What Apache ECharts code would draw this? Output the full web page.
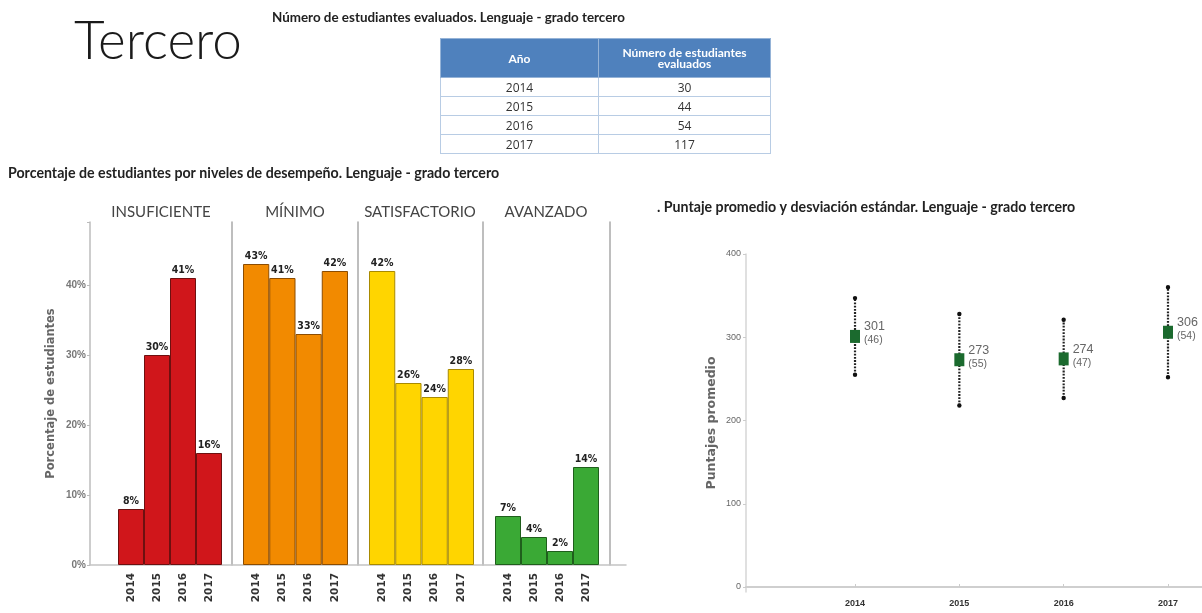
<!DOCTYPE html>
<html><head><meta charset="utf-8">
<script src="https://cdn.jsdelivr.net/npm/echarts@6/dist/echarts.min.js"></script>
<style>
html,body{margin:0;padding:0;background:#fff;}
#chart{position:absolute;left:0;top:0;width:1202px;height:613px;}
#tbl{position:absolute;left:440px;top:38px;border-collapse:collapse;font-family:'Open Sans',sans-serif;font-size:12px;color:#333;}
#tbl th{background:#4f81bd;color:#fff;font-family:Lato,sans-serif;font-weight:bold;font-size:12px;line-height:11px;height:38px;padding:0;border:1px solid #95b3d7;}
#tbl td{height:18px;padding:0;text-align:center;border:1px solid #b8cce4;line-height:17px;}
</style></head><body>
<div id="chart"></div>
<table id="tbl"></table>
<script>
// ---- data ----
const years = ['2014', '2015', '2016', '2017'];
const evaluated = [30, 44, 54, 117];
const levels = ['INSUFICIENTE', 'MÍNIMO', 'SATISFACTORIO', 'AVANZADO'];
const insuficiente = [8, 30, 41, 16];
const minimo = [43, 41, 33, 42];
const satisfactorio = [42, 26, 24, 28];
const avanzado = [7, 4, 2, 14];
const pctTicks = [0, 10, 20, 30, 40];
const scoreYears = [2014, 2015, 2016, 2017];
const scoreMean = [301, 273, 274, 306];
const scoreSD = [46, 55, 47, 54];
const scoreTicks = [0, 100, 200, 300, 400];

// ---- table ----
const tbl = document.getElementById('tbl');
let html = '<tr><th style="width:157px">Año</th><th style="width:171px">Número de estudiantes<br>evaluados</th></tr>';
years.forEach((y, i) => { html += '<tr><td>' + y + '</td><td>' + evaluated[i] + '</td></tr>'; });
tbl.innerHTML = html;

// ---- chart ----
const chart = echarts.init(document.getElementById('chart'));
const levelData = [insuficiente, minimo, satisfactorio, avanzado];
const fills = ['#d0161b', '#f28a00', '#ffd500', '#3aa935'];
const borders = ['#6e1010', '#8c4c00', '#a88a00', '#1f5e1c'];
const barLeft = [118, 243, 369, 495];
const barWidth = [104, 105, 105, 104];
const sepOffset = [0, 11, 11, 12];
const panelCenter = [161, 295, 420, 546];
const TOP = 222, H = 343;

const grids = [{left: 90, top: TOP, width: 536, height: H}];
const xAxes = [{type: 'value', gridIndex: 0, min: 0, max: 1, axisLine: {show: true, lineStyle: {color: '#c4c4c4', width: 1.5}}, axisTick: {show: false}, axisLabel: {show: false}, splitLine: {show: false}}];
const yAxes = [{type: 'value', gridIndex: 0, min: 0, max: 49, interval: 10,
  axisLine: {show: true, lineStyle: {color: '#bdbdbd', width: 1.5}},
  axisTick: {show: true, length: 3, lineStyle: {color: '#bbb'}},
  axisLabel: {fontFamily: 'Liberation Sans Narrow, Liberation Sans', fontWeight: 'bold', fontSize: 10, color: '#777', margin: 4,
    formatter: v => pctTicks.indexOf(v) >= 0 ? v + '%' : ''},
  splitLine: {show: false},
  name: 'Porcentaje de estudiantes', nameLocation: 'middle', nameGap: 33,
  nameTextStyle: {fontFamily: 'DejaVu Sans', fontSize: 11.5, color: '#666', fontWeight: 'bold'}}];
const series = [{type: 'scatter', xAxisIndex: 0, yAxisIndex: 0, data: [], silent: true}];

levels.forEach((lv, i) => {
  grids.push({left: barLeft[i], top: TOP, width: barWidth[i], height: H});
  xAxes.push({type: 'category', gridIndex: i + 1, data: years,
    axisLine: {show: false}, axisTick: {show: false},
    axisLabel: {rotate: 90, fontFamily: 'DejaVu Sans', fontWeight: 'bold', fontSize: 10.5, color: '#333', margin: 8}});
  yAxes.push({type: 'value', gridIndex: i + 1, min: 0, max: 49, offset: sepOffset[i],
    axisLine: {show: i > 0, lineStyle: {color: '#a8a8a8', width: 1.5}},
    axisTick: {show: false}, axisLabel: {show: false}, splitLine: {show: false}});
  series.push({type: 'bar', xAxisIndex: i + 1, yAxisIndex: i + 1, data: levelData[i],
    barCategoryGap: '0%', barWidth: '100%',
    itemStyle: {color: fills[i], borderColor: borders[i], borderWidth: 1},
    label: {show: true, position: 'top', distance: 2, formatter: '{c}%',
      fontFamily: 'Liberation Sans Narrow, DejaVu Sans Condensed', fontWeight: 'bold', fontSize: 10.5, color: '#222'}});
});
// right border of last panel
yAxes.push({type: 'value', gridIndex: 4, min: 0, max: 49, position: 'right', offset: 11,
  axisLine: {show: true, lineStyle: {color: '#a8a8a8', width: 1.5}},
  axisTick: {show: false}, axisLabel: {show: false}, splitLine: {show: false}});

// score chart
const SG = grids.length;
grids.push({left: 746, top: 254, width: 456, height: 338});
const SX = xAxes.length;
xAxes.push({type: 'value', gridIndex: SG, min: 2012.955, max: 2017.326,
  axisLine: {show: true, lineStyle: {color: '#cfcfcf', width: 2}},
  axisTick: {show: true, customValues: scoreYears, length: 3, inside: true, lineStyle: {color: '#ccc'}},
  axisLabel: {customValues: scoreYears, formatter: v => String(v), fontFamily: 'Liberation Sans Narrow, Liberation Sans', fontWeight: 'bold', fontSize: 9, color: '#333', margin: 7},
  splitLine: {show: false}});
const SY = yAxes.length;
yAxes.push({type: 'value', gridIndex: SG, min: -6, max: 400,
  axisLine: {show: true, lineStyle: {color: '#d6d6d6', width: 1.5}},
  axisTick: {show: true, customValues: scoreTicks, length: 3, lineStyle: {color: '#ccc'}},
  axisLabel: {customValues: scoreTicks, fontFamily: 'Liberation Sans Narrow, Liberation Sans', fontSize: 9, color: '#666', margin: 5},
  splitLine: {show: false},
  name: 'Puntajes promedio', nameLocation: 'middle', nameGap: 28,
  nameTextStyle: {fontFamily: 'DejaVu Sans', fontSize: 12.5, color: '#666', fontWeight: 'bold'}});

series.push({type: 'custom', xAxisIndex: SX, yAxisIndex: SY,
  data: scoreYears.map((y, i) => [y, scoreMean[i] - scoreSD[i], scoreMean[i] + scoreSD[i]]),
  renderItem: function (params, api) {
    const lo = api.coord([api.value(0), api.value(1)]);
    const hi = api.coord([api.value(0), api.value(2)]);
    return {type: 'group', children: [
      {type: 'line', shape: {x1: lo[0], y1: lo[1], x2: hi[0], y2: hi[1]}, style: {stroke: '#222', lineWidth: 2.2, lineDash: [1.8, 1.4]}},
      {type: 'circle', shape: {cx: lo[0], cy: lo[1], r: 2.2}, style: {fill: '#111'}},
      {type: 'circle', shape: {cx: hi[0], cy: hi[1], r: 2.2}, style: {fill: '#111'}}
    ]};
  }, z: 2});
series.push({type: 'scatter', xAxisIndex: SX, yAxisIndex: SY, symbol: 'rect', symbolSize: [10, 13],
  data: scoreYears.map((y, i) => [y, scoreMean[i], scoreSD[i]]),
  itemStyle: {color: '#1b6a2e', opacity: 1}, z: 3,
  label: {show: true, position: 'right', distance: 4, offset: [0, -3],
    formatter: p => '{a|' + p.value[1] + '}\n{b|(' + p.value[2] + ')}',
    rich: {a: {fontFamily: 'Liberation Sans Narrow, Liberation Sans', fontSize: 12.5, color: '#666', lineHeight: 14},
           b: {fontFamily: 'Liberation Sans Narrow, Liberation Sans', fontSize: 10.5, color: '#666', lineHeight: 13}}}});

const texts = [
  {x: 74, y: 42, text: 'Tercero', font: '300 53px Lato', fill: '#1a1a1a', align: 'left'},
  {x: 272, y: 18, text: 'Número de estudiantes evaluados. Lenguaje - grado tercero', font: 'bold 13.4px Lato', fill: '#222', align: 'left'},
  {x: 8, y: 173, text: 'Porcentaje de estudiantes por niveles de desempeño. Lenguaje - grado tercero', font: 'bold 14.2px Lato', fill: '#222', align: 'left'},
  {x: 657, y: 207, text: '. Puntaje promedio y desviación estándar. Lenguaje - grado tercero', font: 'bold 14.2px Lato', fill: '#222', align: 'left'}
];
levels.forEach((lv, i) => texts.push({x: panelCenter[i], y: 212, text: lv, font: '15px Lato', fill: '#444', align: 'center'}));

chart.setOption({
  animation: false,
  backgroundColor: '#fff',
  grid: grids, xAxis: xAxes, yAxis: yAxes, series: series,
  graphic: texts.map(t => ({type: 'text', x: t.x, y: t.y, silent: true,
    style: {text: t.text, font: t.font, fill: t.fill, textAlign: t.align, textVerticalAlign: 'middle'}}))
});
</script>
</body></html>
